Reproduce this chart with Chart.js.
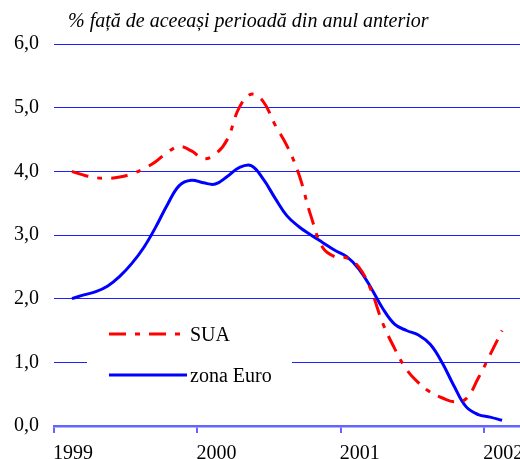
<!DOCTYPE html>
<html>
<head>
<meta charset="utf-8">
<script src="https://cdn.jsdelivr.net/npm/chart.js@4.4.0/dist/chart.umd.min.js"></script>
<style>
  html, body { margin: 0; padding: 0; background: #fff; overflow: hidden; }
  #wrap { width: 520px; height: 459px; }
</style>
</head>
<body>
<div id="wrap"><canvas id="chart" width="520" height="459"></canvas></div>
<script>
// Data: monthly, Jan 1999 .. Jan 2002 (% fata de aceeasi perioada din anul anterior)
const years = [1999, 2000, 2001, 2002];
const yTicks = [0, 1, 2, 3, 4, 5, 6];
const seriesNames = ['SUA', 'zona Euro'];
const sua = [
    4.00, 3.94, 3.90, 3.89, 3.91, 3.96, 4.04, 4.15, 4.30, 4.39, 4.32, 4.20,
    4.27, 4.50, 5.00, 5.21, 5.10, 4.73, 4.40, 3.95, 3.30, 2.80, 2.66, 2.64,
    2.50, 2.15, 1.62, 1.22, 0.89, 0.68, 0.53, 0.44, 0.38, 0.43, 0.75, 1.12,
    1.50
];
const zonaEuro = [
    2.00, 2.06, 2.11, 2.20, 2.35, 2.55, 2.80, 3.12, 3.48, 3.78, 3.86, 3.82,
    3.80, 3.92, 4.06, 4.09, 3.88, 3.58, 3.30, 3.13, 3.00, 2.88, 2.76, 2.66,
    2.47, 2.18, 1.85, 1.60, 1.50, 1.43, 1.28, 0.99, 0.62, 0.30, 0.18, 0.14,
    0.09
];
const titleText = '% față de aceeași perioadă din anul anterior';

const FONT = "'Liberation Serif', 'Times New Roman', serif";

// months are plotted mid-way, starting 1.5 months after Jan 1999
function toPoints(values) {
    return values.map((v, i) => ({ x: years[0] + (i + 1.5) / 12, y: v }));
}

const decor = {
    id: 'decor',
    beforeDatasetsDraw(chart) {
        // white box behind the legend (hides part of the grid line)
        const ctx = chart.ctx;
        ctx.save();
        ctx.fillStyle = '#ffffff';
        ctx.fillRect(87, 306, 205, 88);
        ctx.restore();
    },
    afterDraw(chart) {
        const ctx = chart.ctx;
        const xScale = chart.scales.x;
        ctx.save();

        // title
        ctx.fillStyle = '#000';
        ctx.font = 'italic 20px ' + FONT;
        ctx.textAlign = 'left';
        ctx.textBaseline = 'middle';
        ctx.fillText(titleText, 68, 22);

        // year labels, left-aligned on their tick
        ctx.font = '20px ' + FONT;
        ctx.textBaseline = 'alphabetic';
        years.forEach(y => {
            ctx.fillText(String(y), xScale.getPixelForValue(y) - 1, 459);
        });

        // legend
        const rows = [334, 375];
        chart.data.datasets.forEach((ds, i) => {
            ctx.strokeStyle = ds.borderColor;
            ctx.lineWidth = ds.borderWidth;
            ctx.setLineDash(ds.borderDash || []);
            ctx.beginPath();
            ctx.moveTo(109, rows[i]);
            ctx.lineTo(i === 0 ? 182 : 187, rows[i]);
            ctx.stroke();
            ctx.setLineDash([]);
            ctx.fillStyle = '#000';
            ctx.textBaseline = 'middle';
            ctx.fillText(ds.label, 190, rows[i] + 2);
        });
        ctx.restore();
    }
};

new Chart(document.getElementById('chart'), {
    type: 'line',
    data: {
        datasets: [
            {
                label: seriesNames[0],
                data: toPoints(sua),
                borderColor: '#ff0000',
                borderWidth: 3,
                borderDash: [17, 9, 5, 9],
                pointRadius: 0,
                tension: 0.4,
                fill: false
            },
            {
                label: seriesNames[1],
                data: toPoints(zonaEuro),
                borderColor: '#0000ff',
                borderWidth: 3,
                pointRadius: 0,
                tension: 0.4,
                fill: false
            }
        ]
    },
    options: {
        responsive: false,
        animation: false,
        layout: { padding: { top: 44, right: 0, bottom: 26, left: 0 } },
        plugins: {
            legend: { display: false },
            title: { display: false },
            tooltip: { enabled: false }
        },
        scales: {
            x: {
                type: 'linear',
                min: years[0],
                max: years[0] + 39 / 12,
                afterBuildTicks: s => { s.ticks = years.map(v => ({ value: v })); },
                ticks: { display: false },
                grid: {
                    drawOnChartArea: false,
                    drawTicks: true,
                    tickLength: 7,
                    color: '#6464ff',
                    lineWidth: 2
                },
                border: { display: true, color: '#6464ff', width: 2.5 }
            },
            y: {
                min: yTicks[0],
                max: yTicks[yTicks.length - 1],
                afterFit: s => { s.width = 54; },
                afterBuildTicks: s => { s.ticks = yTicks.map(v => ({ value: v })); },
                ticks: {
                    padding: 15,
                    color: '#000',
                    font: { family: FONT, size: 20 },
                    callback: v => v.toFixed(1).replace('.', ',')
                },
                grid: {
                    drawTicks: false,
                    color: c => c.tick && c.tick.value === 0 ? 'rgba(0,0,0,0)' : '#1f1fff',
                    lineWidth: 1
                },
                border: { display: false }
            }
        }
    },
    plugins: [decor]
});
</script>
</body>
</html>
